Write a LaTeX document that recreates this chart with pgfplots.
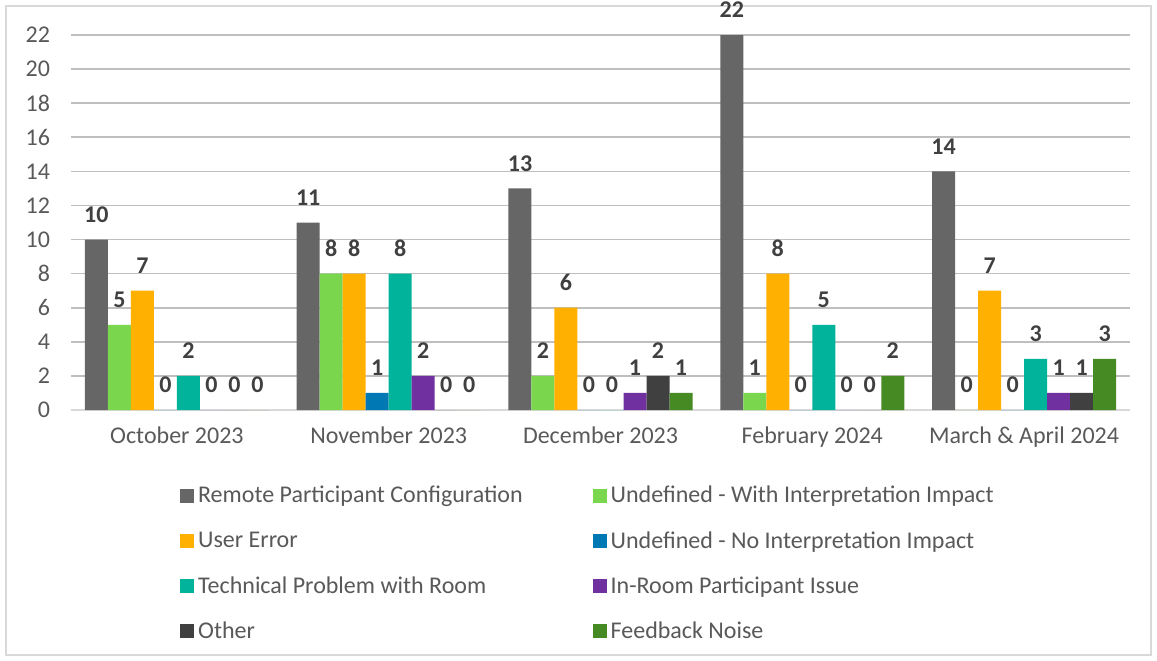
\documentclass[border=0pt]{standalone}
\usepackage{pgfplots}
\pgfplotsset{compat=1.18}
\usepackage{fontspec}
\setmainfont{Carlito}

\definecolor{cRemote}{HTML}{666666}
\definecolor{cUndefW}{HTML}{7AD64C}
\definecolor{cUser}{HTML}{FFB000}
\definecolor{cUndefN}{HTML}{0078B4}
\definecolor{cTech}{HTML}{00B39A}
\definecolor{cInRoom}{HTML}{7030A0}
\definecolor{cOther}{HTML}{404040}
\definecolor{cFeed}{HTML}{468A23}
\definecolor{txt}{HTML}{595959}
\definecolor{grid}{HTML}{D9D9D9}

\begin{document}
\begin{tikzpicture}
% page size and outer frame (1px = 0.5pt, axis corner at px 71,410)
\useasboundingbox (-35.5pt,205pt) rectangle (543pt,-125pt);
\draw[grid, line width=1pt] (-32.5pt,202pt) rectangle (540pt,-122.5pt);

\begin{axis}[
    at={(0,0)}, anchor=south west,
    width=529.5pt, height=187.5pt,
    scale only axis,
    ybar=0pt,
    bar width=11.5pt,
    xmin=-0.5, xmax=4.5,
    ymin=0, ymax=22,
    ytick={0,2,...,22},
    xtick={0,1,2,3,4},
    xticklabels={October 2023, November 2023, December 2023, February 2024, March \& April 2024},
    axis x line*=bottom,
    axis y line*=left,
    y axis line style={draw=none},
    x axis line style={grid, line width=0.8pt},
    major tick length=0pt,
    ymajorgrids,
    xmajorgrids=false,
    grid style={grid, line width=0.8pt},
    ticklabel style={font=\fontsize{12}{14}\selectfont, text=txt},
    xticklabel style={yshift=-5pt},
    yticklabel style={xshift=-7pt},
    /pgf/number format/assume math mode=true,
    nodes near coords,
    every node near coord/.append style={font=\fontsize{12}{14}\selectfont\bfseries, text=cOther, yshift=5pt},
    legend columns=2,
    legend cell align=left,
    legend style={at={(0.097,-0.181)}, anchor=north west, draw=none,
        font=\fontsize{12}{14}\selectfont, text=txt,
        /tikz/every even column/.append style={column sep=33pt},
        row sep=8.7pt},
    legend image code/.code={\fill[#1] (0pt,-3.5pt) rectangle (7pt,3.5pt);},
    every axis plot/.append style={draw=none},
]
\addplot[fill=cRemote] coordinates {(0,10) (1,11) (2,13) (3,22) (4,14)};
\addlegendentry{Remote Participant Configuration}
\addplot[fill=cUndefW] coordinates {(0,5) (1,8) (2,2) (3,1) (4,0)};
\addlegendentry{Undefined - With Interpretation Impact}
\addplot[fill=cUser] coordinates {(0,7) (1,8) (2,6) (3,8) (4,7)};
\addlegendentry{User Error}
\addplot[fill=cUndefN] coordinates {(0,0) (1,1) (2,0) (3,0) (4,0)};
\addlegendentry{Undefined - No Interpretation Impact}
\addplot[fill=cTech] coordinates {(0,2) (1,8) (2,0) (3,5) (4,3)};
\addlegendentry{Technical Problem with Room}
\addplot[fill=cInRoom] coordinates {(0,0) (1,2) (2,1) (3,0) (4,1)};
\addlegendentry{In-Room Participant Issue}
\addplot[fill=cOther] coordinates {(0,0) (1,0) (2,2) (3,0) (4,1)};
\addlegendentry{Other}
\addplot[fill=cFeed] coordinates {(0,0) (1,0) (2,1) (3,2) (4,3)};
\addlegendentry{Feedback Noise}
\end{axis}
\end{tikzpicture}
\end{document}
